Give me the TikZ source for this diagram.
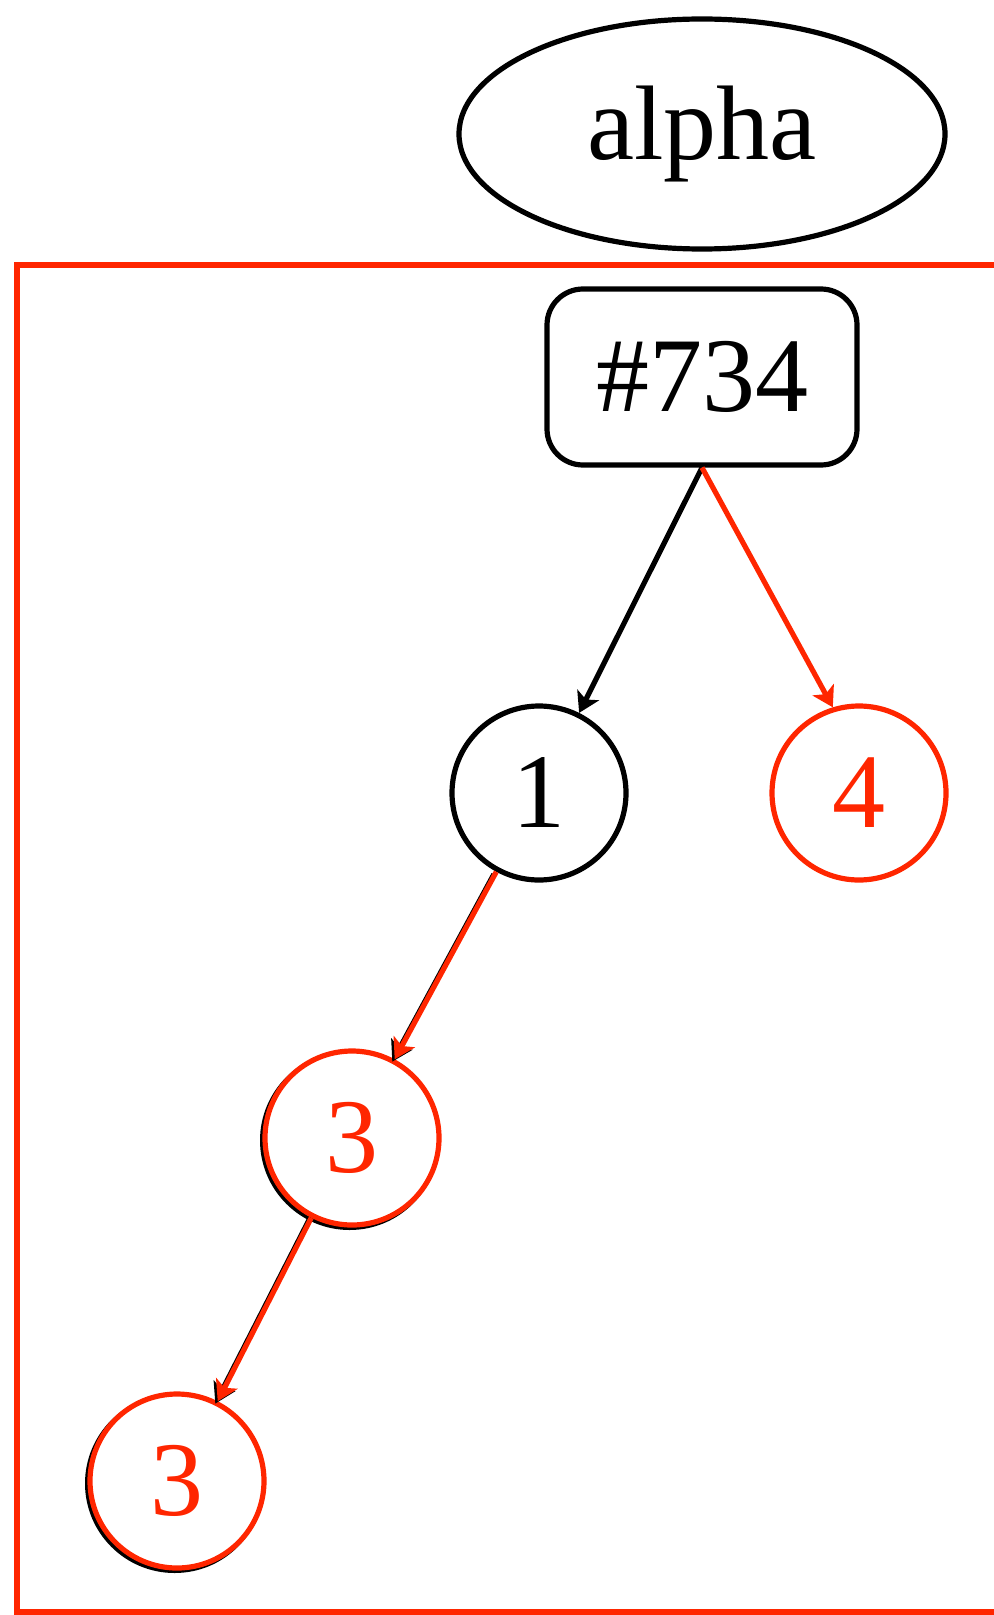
\documentclass[tikz,border=0pt]{standalone}
\usepackage{fontspec}
\setmainfont{Liberation Serif}
\usetikzlibrary{shapes.geometric, arrows.meta, shadows}
\definecolor{treered}{RGB}{255,38,0}
\begin{document}
\begin{tikzpicture}[x=0.5pt, y=-0.5pt, >={Stealth[length=10pt, width=12pt, inset=2.5pt]}, line width=2.6pt]
      % Styles
      \tikzstyle{bigtext} = [font=\fontsize{53}{60}\selectfont]
      \tikzstyle{tag} = [ellipse, draw=black, bigtext, minimum width=243pt, minimum height=115pt]
      \tikzstyle{root} = [rectangle, draw=black, bigtext, rounded corners=18pt, minimum width=155pt, minimum height=88pt]
      \tikzstyle{leaf} = [circle, draw=black, fill=white, bigtext, minimum size=87pt, inner sep=0pt]
      \tikzstyle{hot} = [leaf, draw=treered, text=treered]
      \tikzstyle{hotshadow} = [hot, general shadow={shadow xshift=-1.2pt, shadow yshift=-1.2pt, draw=black, fill=white}]
      \tikzstyle{shade} = [black, transform canvas={shift={(-1.2pt,-1.2pt)}}]
      \useasboundingbox (0,0) rectangle (994,1615);

      % Frame
      \draw[treered] (1010,265) -- (17,265) -- (17,1612) -- (1010,1612);

      % Nodes
      \node[tag] (alpha) at (702,134) {alpha};
      \node[root] (n734) at (702,377) {\#734};
      \node[leaf] (one) at (539,793) {1};
      \node[hot] (four) at (859,793) {4};
      \node[hotshadow] (threeA) at (352,1138) {3};
      \node[hotshadow] (threeB) at (177,1481) {3};

      % Arrows
      \draw[->] (n734.south) -- (one);
      \draw[->, treered] (n734.south) -- (four.107);
      \draw[->, shade] (one) -- (threeA);
      \draw[->, treered] (one) -- (threeA);
      \draw[->, shade] (threeA) -- (threeB);
      \draw[->, treered] (threeA) -- (threeB);
\end{tikzpicture}
\end{document}
